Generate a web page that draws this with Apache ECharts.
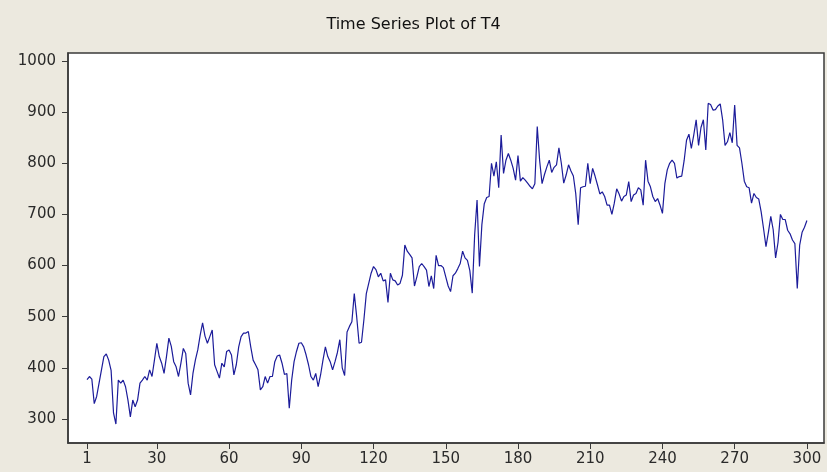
<!DOCTYPE html>
<html>
<head>
<meta charset="utf-8">
<script src="https://cdn.jsdelivr.net/npm/echarts@6/dist/echarts.min.js"></script>
<style>
html,body{margin:0;padding:0;background:#ECE9DF;}
#chart{width:827px;height:472px;}
</style>
</head>
<body>
<div id="chart"></div>
<script>
const titleText = "Time Series Plot of T4";
const xTicks = [1, 30, 60, 90, 120, 150, 180, 210, 240, 270, 300];
const yTicks = [300, 400, 500, 600, 700, 800, 900, 1000];
const t4 = [
377,383,378,330,344,370,396,422,427,415,
395,312,290,376,370,376,363,337,304,337,
324,337,370,376,383,376,396,383,415,448,
422,409,389,422,458,442,412,402,383,409,
438,428,370,347,389,415,435,464,488,462,
448,461,474,406,393,380,409,402,432,435,
425,386,406,441,461,468,468,471,441,415,
406,396,357,363,383,370,383,383,412,423,
425,409,387,389,321,376,412,432,448,449,
441,425,406,383,376,389,363,386,415,441,
422,412,396,412,430,455,400,385,470,481,
490,545,500,448,450,494,545,565,585,598,
592,578,585,570,572,528,585,572,570,562,
565,581,640,628,622,615,560,578,598,604,
598,591,559,580,555,620,600,600,596,578,
560,549,580,585,594,604,628,615,610,590,
546,660,728,598,680,721,733,735,800,775,
803,752,855,780,806,819,806,790,767,815,
765,772,767,761,755,750,760,872,805,760,
778,793,806,782,792,797,830,800,761,777,
797,785,775,740,680,752,754,755,800,760,
790,775,758,740,744,735,718,718,700,722,
750,740,726,735,738,764,725,738,741,752,
748,718,806,765,754,735,725,731,718,702,
760,787,800,806,800,771,774,775,805,845,
857,829,855,885,835,870,885,826,917,915,
904,905,912,916,885,835,842,860,840,914,
835,830,800,765,754,752,722,741,733,730,
705,672,637,665,696,670,615,645,700,690,
690,669,662,650,643,555,640,665,675,688
];
const points = t4.map((v, i) => [i + 1, v]);

const chart = echarts.init(document.getElementById('chart'), null, {renderer: 'canvas'});
const labelFont = {fontFamily: 'DejaVu Sans', fontSize: 15, color: '#2a2a2a'};
chart.setOption({
  backgroundColor: '#ECE9DF',
  animation: false,
  title: {
    text: titleText,
    left: 'center',
    top: 12,
    textStyle: {fontFamily: 'DejaVu Sans', fontSize: 16, fontWeight: 'normal', color: '#111'}
  },
  grid: {
    left: 68, right: 3, top: 53, bottom: 29,
    show: true, backgroundColor: '#ffffff', borderColor: '#3a3a3a', borderWidth: 1.5
  },
  xAxis: {
    type: 'value', min: -6.9, max: 307.1,
    axisLine: {show: true, onZero: false, lineStyle: {color: '#3a3a3a', width: 1.5}},
    axisTick: {show: true, length: 6, customValues: xTicks, lineStyle: {color: '#3a3a3a'}},
    axisLabel: Object.assign({customValues: xTicks, margin: 9, formatter: v => String(v)}, labelFont),
    splitLine: {show: false}
  },
  yAxis: {
    type: 'value', min: 253, max: 1015.6,
    axisLine: {show: true, onZero: false, lineStyle: {color: '#3a3a3a', width: 1.5}},
    axisTick: {show: true, length: 6, customValues: yTicks, lineStyle: {color: '#3a3a3a'}},
    axisLabel: Object.assign({customValues: yTicks, margin: 12, formatter: v => String(v)}, labelFont),
    splitLine: {show: false}
  },
  series: [{
    type: 'line',
    data: points,
    showSymbol: false,
    symbol: 'none',
    lineStyle: {color: '#1c1c9a', width: 1.2},
    clip: true
  }]
});
</script>
</body>
</html>
